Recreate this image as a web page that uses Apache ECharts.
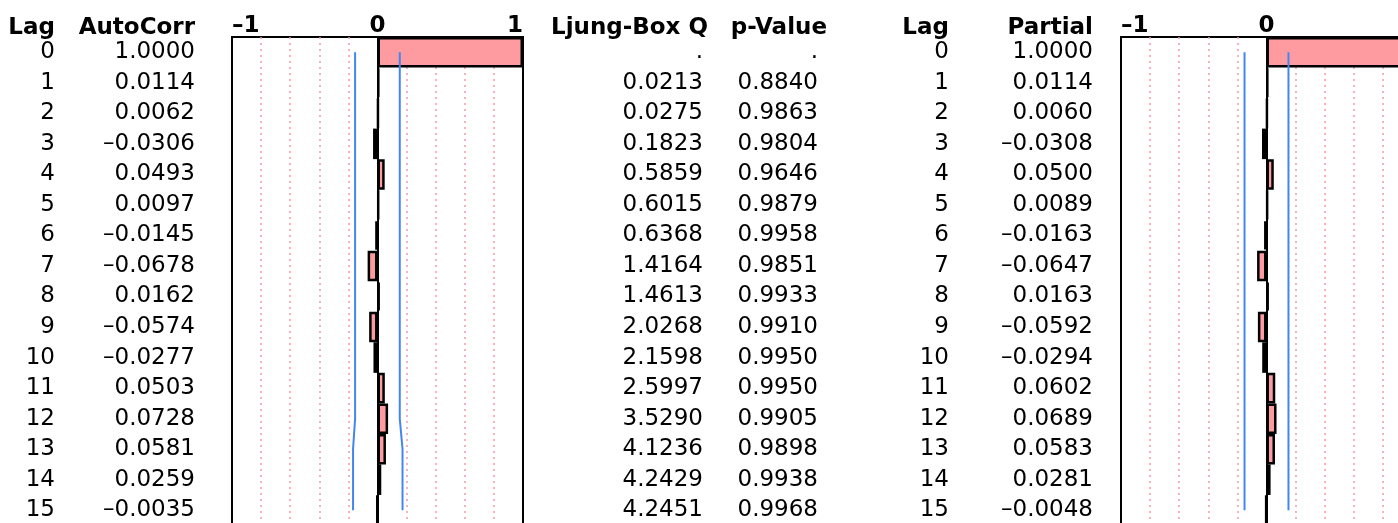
<!DOCTYPE html>
<html>
<head>
<meta charset="utf-8">
<script src="https://cdn.jsdelivr.net/npm/echarts@6/dist/echarts.min.js"></script>
<style>
html, body { margin: 0; padding: 0; background: #fff; }
#main { width: 1398px; height: 523px; }
</style>
</head>
<body>
<div id="main"></div>
<script>
var lags = [0, 1, 2, 3, 4, 5, 6, 7, 8, 9, 10, 11, 12, 13, 14, 15];
var autoCorr = [1.0000, 0.0114, 0.0062, -0.0306, 0.0493, 0.0097, -0.0145, -0.0678,
    0.0162, -0.0574, -0.0277, 0.0503, 0.0728, 0.0581, 0.0259, -0.0035];
var ljungBoxQ = [null, 0.0213, 0.0275, 0.1823, 0.5859, 0.6015, 0.6368, 1.4164,
    1.4613, 2.0268, 2.1598, 2.5997, 3.5290, 4.1236, 4.2429, 4.2451];
var pValue = [null, 0.8840, 0.9863, 0.9804, 0.9646, 0.9879, 0.9958, 0.9851,
    0.9933, 0.9910, 0.9950, 0.9950, 0.9905, 0.9898, 0.9938, 0.9968];
var partial = [1.0000, 0.0114, 0.0060, -0.0308, 0.0500, 0.0089, -0.0163, -0.0647,
    0.0163, -0.0592, -0.0294, 0.0602, 0.0689, 0.0583, 0.0281, -0.0048];
// significance bounds
var acfUpper = [0.153, 0.153, 0.153, 0.153, 0.153, 0.153, 0.153, 0.153,
    0.153, 0.153, 0.153, 0.153, 0.153, 0.172, 0.172, 0.172];
var acfLower = [-0.154, -0.154, -0.154, -0.154, -0.154, -0.154, -0.154, -0.154,
    -0.154, -0.154, -0.154, -0.154, -0.154, -0.168, -0.168, -0.168];
var pacfUpper = [0.151, 0.151, 0.151, 0.151, 0.151, 0.151, 0.151, 0.151,
    0.151, 0.151, 0.151, 0.151, 0.151, 0.151, 0.151, 0.151];
var pacfLower = [-0.151, -0.151, -0.151, -0.151, -0.151, -0.151, -0.151, -0.151,
    -0.151, -0.151, -0.151, -0.151, -0.151, -0.151, -0.151, -0.151];
var corrTicks = [-1, 0, 1];

var FONT = 'DejaVu Sans';
var DASH = '\u2013';
var SIZE = 23;

function fmt(v) {
    if (v === null) return '.';
    var s = Math.abs(v).toFixed(4);
    return v < 0 ? DASH + s : s;
}

// a text column: header as axis name, values as category labels
function textAxis(grid, offset, shift, name, values) {
    return {
        type: 'category', gridIndex: grid, inverse: true, position: 'left', offset: offset,
        data: values,
        name: name, nameLocation: 'start', nameGap: -3,
        nameTextStyle: {fontFamily: FONT, fontSize: SIZE, fontWeight: 'bold', color: '#000',
            align: 'right', verticalAlign: 'bottom'},
        axisLine: {show: false}, axisTick: {show: false}, splitLine: {show: false},
        axisLabel: {interval: 0, margin: shift, align: 'right', padding: [5, 0, 0, 0],
            fontFamily: FONT, fontSize: SIZE, color: '#000'}
    };
}

function barAxis(grid) {
    return {
        type: 'category', gridIndex: grid, inverse: true, data: lags,
        axisLine: {show: false}, axisTick: {show: false}, axisLabel: {show: false}, splitLine: {show: false}
    };
}

function corrAxis(grid) {
    return {
        type: 'value', gridIndex: grid, position: 'top', min: -1, max: 1, interval: 0.2,
        axisLine: {show: false}, axisTick: {show: false},
        axisLabel: {
            margin: -1, fontFamily: FONT, fontSize: SIZE, fontWeight: 'bold', color: '#000',
            alignMinLabel: 'left', alignMaxLabel: 'right',
            formatter: function (v) {
                for (var i = 0; i < corrTicks.length; i++) {
                    if (Math.abs(v - corrTicks[i]) < 1e-9) {
                        return corrTicks[i] < 0 ? DASH + Math.abs(corrTicks[i]) : String(corrTicks[i]);
                    }
                }
                return '';
            }
        },
        splitLine: {show: true, showMinLine: false, showMaxLine: false,
            lineStyle: {color: '#f59aa2', type: [2, 4], width: 1.5}}
    };
}

function barSeries(x, y, data) {
    return {
        type: 'bar', xAxisIndex: x, yAxisIndex: y, data: data, barCategoryGap: '0%',
        itemStyle: {color: '#fd9ba1', borderColor: '#000', borderWidth: 2.5},
        markLine: {
            silent: true, symbol: 'none', label: {show: false},
            lineStyle: {color: '#000', type: 'solid', width: 2},
            data: [{xAxis: 0}]
        },
        z: 3
    };
}

function boundSeries(x, y, data) {
    return {
        type: 'line', xAxisIndex: x, yAxisIndex: y, data: data, symbol: 'none',
        lineStyle: {color: '#4286f2', width: 2}, z: 5
    };
}

var chart = echarts.init(document.getElementById('main'));

var option = {
    animation: false,
    grid: [
        {left: 232, top: 37, width: 291, height: 488.5, outerBoundsMode: 'none',
            show: true, borderColor: '#000', borderWidth: 2, borderType: 'solid'},
        {left: 1121, top: 37, width: 291, height: 488.5, outerBoundsMode: 'none',
            show: true, borderColor: '#000', borderWidth: 2, borderType: 'solid'}
    ],
    xAxis: [corrAxis(0), corrAxis(1)],
    yAxis: [
        barAxis(0),
        textAxis(0, 177, 0, 'Lag', lags.map(String)),
        textAxis(0, 37, 0, 'AutoCorr', autoCorr.map(fmt)),
        barAxis(1),
        textAxis(1, 413, 5, 'Ljung-Box Q', ljungBoxQ.map(fmt)),
        textAxis(1, 294, 9, 'p-Value', pValue.map(fmt)),
        textAxis(1, 172, 0, 'Lag', lags.map(String)),
        textAxis(1, 28, 0, 'Partial', partial.map(fmt))
    ],
    series: [
        barSeries(0, 0, autoCorr),
        boundSeries(0, 0, acfUpper),
        boundSeries(0, 0, acfLower),
        barSeries(1, 3, partial),
        boundSeries(1, 3, pacfUpper),
        boundSeries(1, 3, pacfLower)
    ]
};

chart.setOption(option);
window.onresize = function () {
    chart.resize();
};
</script>
</body>
</html>
